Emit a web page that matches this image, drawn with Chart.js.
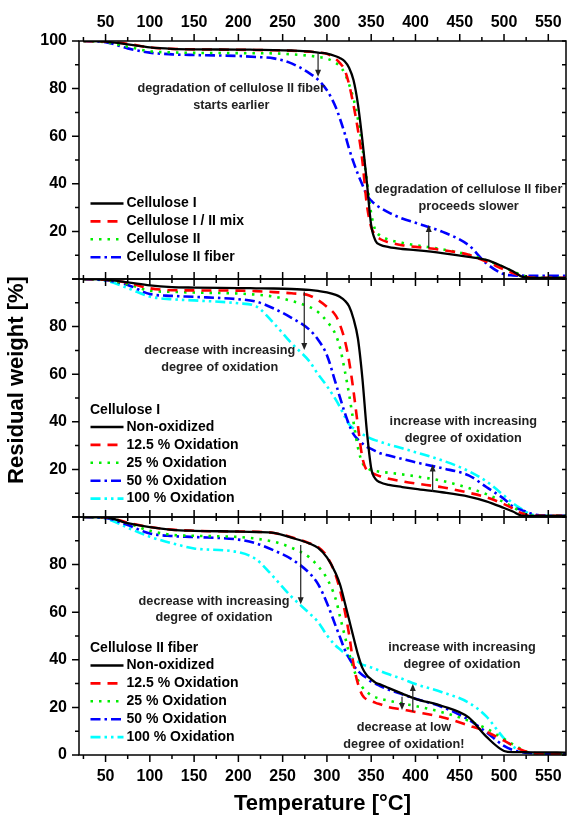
<!DOCTYPE html>
<html>
<head>
<meta charset="utf-8">
<script src="https://cdn.jsdelivr.net/npm/chart.js@4.4.1/dist/chart.umd.min.js"></script>
<style>
  html, body { margin: 0; padding: 0; background: #fff; }
  #wrap { width: 567px; height: 817px; }
</style>
</head>
<body>
<div id="wrap"><canvas id="tgaChart" width="567" height="817"></canvas></div>
<script>
// Temperature grid (°C) shared by all curves
const temperature = [25, 50, 75, 100, 125, 150, 200, 220, 240, 260, 280, 290, 300, 310, 315, 320, 325, 330, 335, 340,
  345, 350, 355, 360, 370, 385, 400, 430, 460, 480, 500, 510, 520, 530, 540, 570];

// Top panel: cellulose types
const cellI = [100, 99.7, 98.6, 97.3, 96.7, 96.5, 96.4, 96.3, 96.2, 96, 95.6, 95.1, 94.7, 93.6, 92.8, 91.5, 88.8, 83.6, 73.5, 58.5,
  41, 22.5, 16, 14.4, 13.4, 12.6, 12.1, 10.9, 9.3, 8.0, 5.0, 3.3, 1.0, 0.5, 0.5, 0.5];
const cellMix = [100, 99.8, 98.8, 97.3, 96.7, 96.5, 96.3, 96.2, 96.1, 95.9, 95.5, 95.2, 94.6, 92.5, 90.6, 87.9, 81.8, 73.1, 62.7, 49.7,
  31.5, 21.8, 18.4, 16.8, 15.4, 14.2, 13.5, 12.2, 10.2, 7.3, 4.0, 2.5, 1.3, 0.6, 0.5, 0.5];
const cellII = [100, 99.5, 97.6, 95.7, 95.2, 95, 94.9, 94.85, 94.8, 94.4, 93.8, 93.3, 92.6, 90.8, 89.3, 86.5, 81.8, 75.8, 67.2, 55.4,
  41.5, 27.5, 20.2, 18.3, 16.5, 15.2, 14.2, 12.5, 10.2, 7.8, 5.0, 3.2, 1.7, 0.6, 0.5, 0.5];
const cellIIFiber = [100, 99.5, 96.9, 95.1, 94.4, 94.1, 93.7, 93.3, 92.7, 90.6, 86.5, 83.7, 79.3, 72.2, 67, 61.3, 54.8, 49.1, 44.1, 39.6,
  35.3, 32.9, 31.2, 30, 27.9, 25.4, 23.6, 19.9, 14.2, 6.6, 2.0, 1.5, 1.4, 1.3, 1.3, 1.3];

// Middle panel: cellulose I, oxidation series
const oxI_0 = [100, 99.7, 98.6, 97.3, 96.6, 96.4, 96.2, 96.1, 96, 95.8, 95.4, 95, 94.4, 93.3, 92.4, 91, 88.5, 83.3, 75, 58.5,
  36.5, 20.5, 15.9, 14.6, 13.5, 12.6, 11.8, 10.4, 8.6, 6.6, 3.8, 2.3, 0.6, 0.5, 0.5, 0.5];
const oxI_12 = [100, 99.7, 98.4, 96.1, 95.3, 95.2, 95.1, 94.9, 94.5, 94.0, 93.1, 91.1, 88.3, 84.6, 80.5, 74.5, 65.6, 53, 38.3, 25,
  19.6, 18.6, 17.8, 17.1, 16.1, 15, 14.1, 12.5, 10.2, 8.3, 5.4, 3.6, 1.6, 0.6, 0.5, 0.5];
const oxI_25 = [100, 99.6, 97.8, 95.1, 94.6, 94.3, 93.9, 93.4, 92.6, 90.8, 88.3, 86.1, 82.2, 76.5, 70.8, 61.8, 51.6, 40, 29.2, 22.8,
  20.8, 19.6, 19.3, 19.0, 18.6, 17.9, 17.1, 15.2, 12.2, 9.6, 6.2, 4.2, 2.0, 0.6, 0.5, 0.5];
const oxI_50 = [100, 99.5, 97.5, 93.7, 92.9, 92.5, 91.5, 90.5, 87.6, 83.7, 78.8, 74.5, 68, 56.1, 49.9, 44, 38.8, 34.8, 32.6, 30.9,
  29.5, 28.6, 27.7, 26.8, 25.8, 24.4, 23, 20.5, 17.5, 12.6, 7.6, 4.4, 2.9, 1.5, 0.7, 0.5];
const oxI_100 = [100, 99.3, 96.2, 92.6, 91.5, 91.0, 89.8, 88.5, 81.4, 73, 65.5, 60, 55, 49.3, 46, 42.3, 39, 37.3, 36, 34.8,
  33.8, 32.9, 32.2, 31.6, 30.4, 28.9, 27.2, 23.8, 19.3, 15, 9, 5.8, 3.3, 1.2, 0.5, 0.5];

// Bottom panel: cellulose II fiber, oxidation series
const oxII_0 = [100, 99.9, 97.4, 95.7, 94.6, 94.2, 93.9, 93.7, 93.3, 91.3, 88.9, 87, 83, 76.3, 71.4, 64.3, 56.9, 49.5, 42.3, 36.6,
  33.5, 31.8, 30.4, 29.7, 28.1, 25.8, 23.6, 20.6, 15.8, 7.7, 1.7, 1.2, 1.2, 1.1, 1.1, 1.0];
const oxII_12 = [100, 99.9, 97.6, 95.8, 94.7, 94.2, 93.9, 93.8, 93.3, 91.5, 89, 87.4, 83.5, 75.4, 69, 60.8, 50.7, 38.2, 30, 25.2,
  23.3, 22.6, 21.9, 21.3, 20.1, 19.1, 18.1, 15.9, 12.4, 9.8, 6.0, 4.0, 2.1, 1.0, 0.6, 0.5];
const oxII_25 = [100, 99.8, 97.4, 94.2, 92.5, 92.1, 91.6, 90.9, 89.6, 87.1, 83.1, 79.3, 74.2, 65.4, 57.8, 50.3, 42.8, 36.4, 31.6, 28.5,
  26.5, 25.1, 24.2, 23.6, 22.8, 21.6, 20.6, 18.0, 14.4, 11.1, 6.7, 4.5, 2.4, 0.8, 0.6, 0.5];
const oxII_50 = [100, 99.6, 96.6, 93.1, 92, 91.6, 90.5, 88.9, 86, 82.3, 76.5, 71.8, 63.9, 54.1, 49.3, 44.4, 40.7, 37.7, 35.3, 33.6,
  32.3, 30.8, 29.9, 29.0, 27.4, 25.5, 23.6, 20.2, 14.8, 9.6, 3.8, 2.1, 1.2, 0.8, 0.6, 0.5];
const oxII_100 = [100, 99.3, 95.5, 91.7, 89, 86.8, 85.2, 82.2, 74.7, 66.5, 59.6, 55.9, 50.3, 45.9, 44.3, 42.7, 41.4, 40.3, 39.2, 38.0,
  37.4, 36.8, 36.1, 35.3, 33.9, 32, 29.8, 26.4, 22, 16.2, 7.0, 3.6, 1.6, 0.8, 0.5, 0.5];

// Tick labels
const xTickLabels = [50, 100, 150, 200, 250, 300, 350, 400, 450, 500, 550];
const yTopTicks = [20, 40, 60, 80, 100];
const yMidTicks = [20, 40, 60, 80];
const yBotTicks = [0, 20, 40, 60, 80];

const FONT = '"Liberation Sans", Arial, sans-serif';

const lineStyles = {
  black: { color: '#000000', width: 2.3, dash: [] },
  red:   { color: '#ff0000', width: 2.6, dash: [10, 7] },
  green: { color: '#00ee00', width: 2.6, dash: [2.5, 6] },
  blue:  { color: '#0000ff', width: 2.6, dash: [10, 4, 2.5, 4] },
  cyan:  { color: '#00ffff', width: 2.6, dash: [10, 4, 2.5, 4, 2.5, 4] }
};

function makeSet(label, values, axis, styleName) {
  const s = lineStyles[styleName];
  return {
    label: label,
    data: temperature.map((t, i) => ({ x: t, y: values[i] })),
    yAxisID: axis,
    borderColor: s.color,
    borderWidth: s.width,
    borderDash: s.dash,
    pointRadius: 0,
    cubicInterpolationMode: 'monotone',
    fill: false
  };
}

const datasets = [
  makeSet('Cellulose I', cellI, 'yTop', 'black'),
  makeSet('Cellulose I / II mix', cellMix, 'yTop', 'red'),
  makeSet('Cellulose II', cellII, 'yTop', 'green'),
  makeSet('Cellulose II fiber', cellIIFiber, 'yTop', 'blue'),
  makeSet('Non-oxidized', oxI_0, 'yMid', 'black'),
  makeSet('12.5 % Oxidation', oxI_12, 'yMid', 'red'),
  makeSet('25 % Oxidation', oxI_25, 'yMid', 'green'),
  makeSet('50 % Oxidation', oxI_50, 'yMid', 'blue'),
  makeSet('100 % Oxidation', oxI_100, 'yMid', 'cyan'),
  makeSet('Non-oxidized', oxII_0, 'yBot', 'black'),
  makeSet('12.5 % Oxidation', oxII_12, 'yBot', 'red'),
  makeSet('25 % Oxidation', oxII_25, 'yBot', 'green'),
  makeSet('50 % Oxidation', oxII_50, 'yBot', 'blue'),
  makeSet('100 % Oxidation', oxII_100, 'yBot', 'cyan')
];

const panelIds = ['yTop', 'yMid', 'yBot'];

// panel legends (offsets in px from the panel's top-left corner)
const panelLegends = {
  yTop: { title: null, firstRow: 162.5 },
  yMid: { title: 'Cellulose I', firstRow: 148 },
  yBot: { title: 'Cellulose II fiber', firstRow: 148.5 }
};

// text notes, placed in data units of their panel
const notes = [
  { axis: 'yTop', x: 192, y: 80.1, lines: ['degradation of cellulose II fiber', 'starts earlier'] },
  { axis: 'yTop', x: 460, y: 37.7, lines: ['degradation of cellulose II fiber', 'proceeds slower'] },
  { axis: 'yMid', x: 179, y: 69.9, lines: ['decrease with increasing', 'degree of oxidation'] },
  { axis: 'yMid', x: 454, y: 40, lines: ['increase with increasing', 'degree of oxidation'] },
  { axis: 'yBot', x: 172.5, y: 64.7, lines: ['decrease with increasing', 'degree of oxidation'] },
  { axis: 'yBot', x: 452.5, y: 45.1, lines: ['increase with increasing', 'degree of oxidation'] },
  { axis: 'yBot', x: 387, y: 11.6, lines: ['decrease at low', 'degree of oxidation!'] }
];

const arrows = [
  { axis: 'yTop', x: 290, from: 95.1, to: 85 },
  { axis: 'yTop', x: 415, from: 12.9, to: 22.7 },
  { axis: 'yMid', x: 274.4, from: 94.7, to: 70.2 },
  { axis: 'yMid', x: 419.4, from: 10.6, to: 22.1 },
  { axis: 'yBot', x: 270.4, from: 88.2, to: 63.3 },
  { axis: 'yBot', x: 397, from: 18.2, to: 29.8 },
  { axis: 'yBot', x: 384.8, from: 24.5, to: 18.9 }
];

const tgaDecor = {
  id: 'tgaDecor',
  afterDraw(chart) {
    const ctx = chart.ctx;
    const area = chart.chartArea;
    const xs = chart.scales.x;
    ctx.save();

    // frames and tick marks
    ctx.strokeStyle = '#000';
    ctx.lineWidth = 1.5;
    ctx.setLineDash([]);
    panelIds.forEach(id => {
      const ys = chart.scales[id];
      ctx.strokeRect(area.left, ys.top, area.right - area.left, ys.bottom - ys.top);
      ctx.beginPath();
      for (let t = 25; t <= 570; t += 25) {
        const px = xs.getPixelForValue(t);
        const len = t % 50 === 0 ? 7 : 4;
        ctx.moveTo(px, ys.top); ctx.lineTo(px, ys.top - len);
        ctx.moveTo(px, ys.bottom); ctx.lineTo(px, ys.bottom + len);
      }
      for (let v = 0; v <= 100; v += 10) {
        const py = ys.getPixelForValue(v);
        const len = v % 20 === 0 ? 7 : 4;
        ctx.moveTo(area.left, py); ctx.lineTo(area.left - len, py);
        ctx.moveTo(area.right, py); ctx.lineTo(area.right - 4, py);
      }
      ctx.stroke();
    });

    // legends inside each panel
    ctx.font = 'bold 14px ' + FONT;
    ctx.textBaseline = 'middle';
    ctx.textAlign = 'left';
    panelIds.forEach(id => {
      const ys = chart.scales[id];
      const lg = panelLegends[id];
      const rowH = 17.9;
      ctx.fillStyle = '#000';
      if (lg.title) ctx.fillText(lg.title, area.left + 11, ys.top + lg.firstRow - 17);
      let row = 0;
      chart.data.datasets.forEach(ds => {
        if (ds.yAxisID !== id) return;
        const y = ys.top + lg.firstRow + row * rowH;
        ctx.save();
        ctx.strokeStyle = ds.borderColor;
        ctx.lineWidth = ds.borderWidth;
        ctx.setLineDash(ds.borderDash);
        ctx.beginPath();
        ctx.moveTo(area.left + 11.5, y);
        ctx.lineTo(area.left + 44.5, y);
        ctx.stroke();
        ctx.restore();
        ctx.fillStyle = '#000';
        ctx.fillText(ds.label, area.left + 47.5, y);
        row++;
      });
    });

    // notes
    ctx.font = 'bold 12.7px ' + FONT;
    ctx.fillStyle = '#222';
    ctx.textAlign = 'center';
    notes.forEach(n => {
      const ys = chart.scales[n.axis];
      const px = xs.getPixelForValue(n.x);
      const py = ys.getPixelForValue(n.y);
      n.lines.forEach((txt, i) => ctx.fillText(txt, px, py + i * 16.8));
    });

    // arrows
    ctx.strokeStyle = '#222';
    ctx.fillStyle = '#222';
    ctx.lineWidth = 1.2;
    arrows.forEach(a => {
      const ys = chart.scales[a.axis];
      const px = xs.getPixelForValue(a.x);
      const y0 = ys.getPixelForValue(a.from);
      const y1 = ys.getPixelForValue(a.to);
      const dir = y1 > y0 ? 1 : -1;
      ctx.beginPath();
      ctx.moveTo(px, y0);
      ctx.lineTo(px, y1 - dir * 5);
      ctx.stroke();
      ctx.beginPath();
      ctx.moveTo(px, y1);
      ctx.lineTo(px - 3, y1 - dir * 7);
      ctx.lineTo(px + 3, y1 - dir * 7);
      ctx.closePath();
      ctx.fill();
    });

    // y axis title spanning all panels
    ctx.translate(17, 380);
    ctx.rotate(-Math.PI / 2);
    ctx.font = 'bold 22px ' + FONT;
    ctx.fillStyle = '#000';
    ctx.textAlign = 'center';
    ctx.fillText('Residual weight [%]', 0, 0);
    ctx.restore();
  }
};

const tickFont = { family: FONT, size: 16, weight: 'bold' };

function panelAxis(tickValues) {
  return {
    type: 'linear',
    position: 'left',
    stack: 'tga',
    stackWeight: 1,
    min: 0,
    max: 100,
    grid: { display: false, drawTicks: false },
    border: { display: false },
    afterBuildTicks: s => { s.ticks = tickValues.map(v => ({ value: v })); },
    afterFit: s => { s.width = 79; s.paddingTop = 0; s.paddingBottom = 0; },
    ticks: { padding: 12, color: '#000', font: tickFont }
  };
}

function tempAxis(pos, height, labelGap, withTitle) {
  return {
    type: 'linear',
    position: pos,
    min: 20,
    max: 570,
    grid: { display: false, drawTicks: false },
    border: { display: false },
    afterBuildTicks: s => { s.ticks = xTickLabels.map(v => ({ value: v })); },
    afterFit: s => { s.height = height; s.paddingLeft = 0; s.paddingRight = 0; },
    ticks: { padding: labelGap, color: '#000', font: tickFont, maxRotation: 0, autoSkip: false },
    title: {
      display: withTitle,
      text: 'Temperature [°C]',
      color: '#000',
      font: { family: FONT, size: 22, weight: 'bold' },
      padding: { top: 0, bottom: 0 }
    }
  };
}

document.addEventListener('DOMContentLoaded', function() {
  const ctx = document.getElementById('tgaChart');
  new Chart(ctx, {
    type: 'line',
    data: { datasets: datasets },
    options: {
      responsive: false,
      animation: false,
      devicePixelRatio: 1,
      events: [],
      layout: { padding: { left: 0, right: 1, top: 0, bottom: 0 } },
      plugins: {
        legend: { display: false },
        tooltip: { enabled: false }
      },
      scales: {
        x: tempAxis('bottom', 62, 12, true),
        x2: tempAxis('top', 41, 9, false),
        yBot: panelAxis(yBotTicks),
        yMid: panelAxis(yMidTicks),
        yTop: panelAxis(yTopTicks)
      }
    },
    plugins: [tgaDecor]
  });
});
</script>
</body>
</html>
